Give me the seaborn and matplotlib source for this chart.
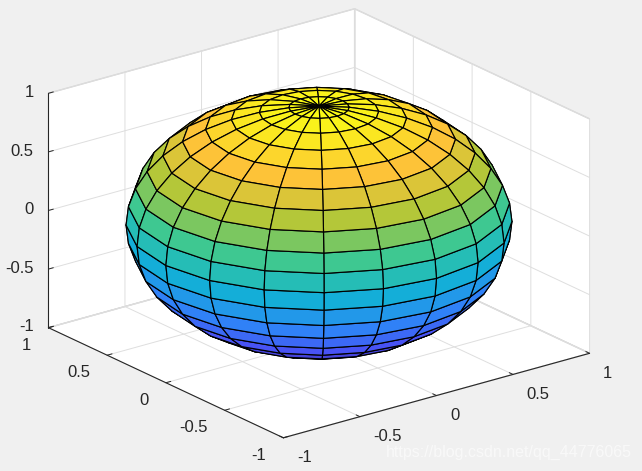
import numpy as np
import matplotlib
matplotlib.use("Agg")
import matplotlib.pyplot as plt
import seaborn as sns

# sphere(20) grid, in degrees
lon_deg = [-180, -162, -144, -126, -108, -90, -72, -54, -36, -18, 0,
           18, 36, 54, 72, 90, 108, 126, 144, 162, 180]
lat_deg = [-90, -81, -72, -63, -54, -45, -36, -27, -18, -9, 0,
           9, 18, 27, 36, 45, 54, 63, 72, 81, 90]
tick_values = [-1, -0.5, 0, 0.5, 1]
tick_labels = ["-1", "-0.5", "0", "0.5", "1"]
parula_colors = ["#3e26a8", "#4852f4", "#2d87f7", "#12b1d6",
                 "#37c897", "#abc739", "#fec338", "#f9fb15"]

sns.set_theme(style="white")
plt.rcParams["font.family"] = ["Liberation Sans", "DejaVu Sans"]
parula = sns.blend_palette(parula_colors, n_colors=256, as_cmap=True)

lon = np.radians(lon_deg)
lat = np.radians(lat_deg)
x = np.outer(np.cos(lat), np.cos(lon))
y = np.outer(np.cos(lat), np.sin(lon))
z = np.outer(np.sin(lat), np.ones(len(lon)))
colors = parula((z + 1) / 2)

fig = plt.figure(figsize=(6.42, 4.71), dpi=100, facecolor="#f0f0f0")
ax = fig.add_axes([-11.5 / 642, 10 / 471, 643.6 / 642, 462.9 / 471],
                  projection="3d", proj_type="ortho", facecolor="none")
# matlab stretches the box to fill the window, 3d axes would force a square
ax.apply_aspect = lambda position=None: None
ax.view_init(elev=30, azim=-127.5)
ax.set_box_aspect((1, 1, 0.975))

ax.plot_surface(x, y, z, facecolors=colors, rstride=1, cstride=1, shade=False,
                edgecolor="black", linewidth=0.85, antialiased=True)

ax.set_xlim(-1, 1, view_margin=0)
ax.set_ylim(-1, 1, view_margin=0)
ax.set_zlim(-1, 1, view_margin=0)
ax.set_xticks(tick_values, tick_labels)
ax.set_yticks(tick_values, tick_labels)
ax.set_zticks(tick_values, tick_labels)
ax.tick_params(labelsize=12, colors="#262626")
ax.tick_params(axis="x", pad=4)
ax.tick_params(axis="y", pad=3.5)
ax.tick_params(axis="z", pad=-2.3)
plt.setp(ax.get_xticklabels(), ha="left", va="center")
plt.setp(ax.get_yticklabels(), ha="right", va="center")
plt.setp(ax.get_zticklabels(), ha="right", va="center")

for axis in [ax.xaxis, ax.yaxis, ax.zaxis]:
    axis.set_pane_color("white")
    axis.pane.set_edgecolor("#d4d4d4")
    axis.line.set_color("#262626")
    axis.line.set_linewidth(0.8)
    axis._axinfo["grid"].update(color="#dedede", linewidth=0.7)
    axis._axinfo["tick"].update(inward_factor=0, outward_factor=0.2,
                                linewidth={True: 0.7, False: 0.7}, color="#262626")
ax.grid(True)

fig.text(632 / 642, 1 - 452 / 471, "https://blog.csdn.net/qq_44776065", ha="right",
         va="center", fontsize=11.5, color="white", alpha=0.6)

fig.savefig("out.png", dpi=100, facecolor=fig.get_facecolor())
